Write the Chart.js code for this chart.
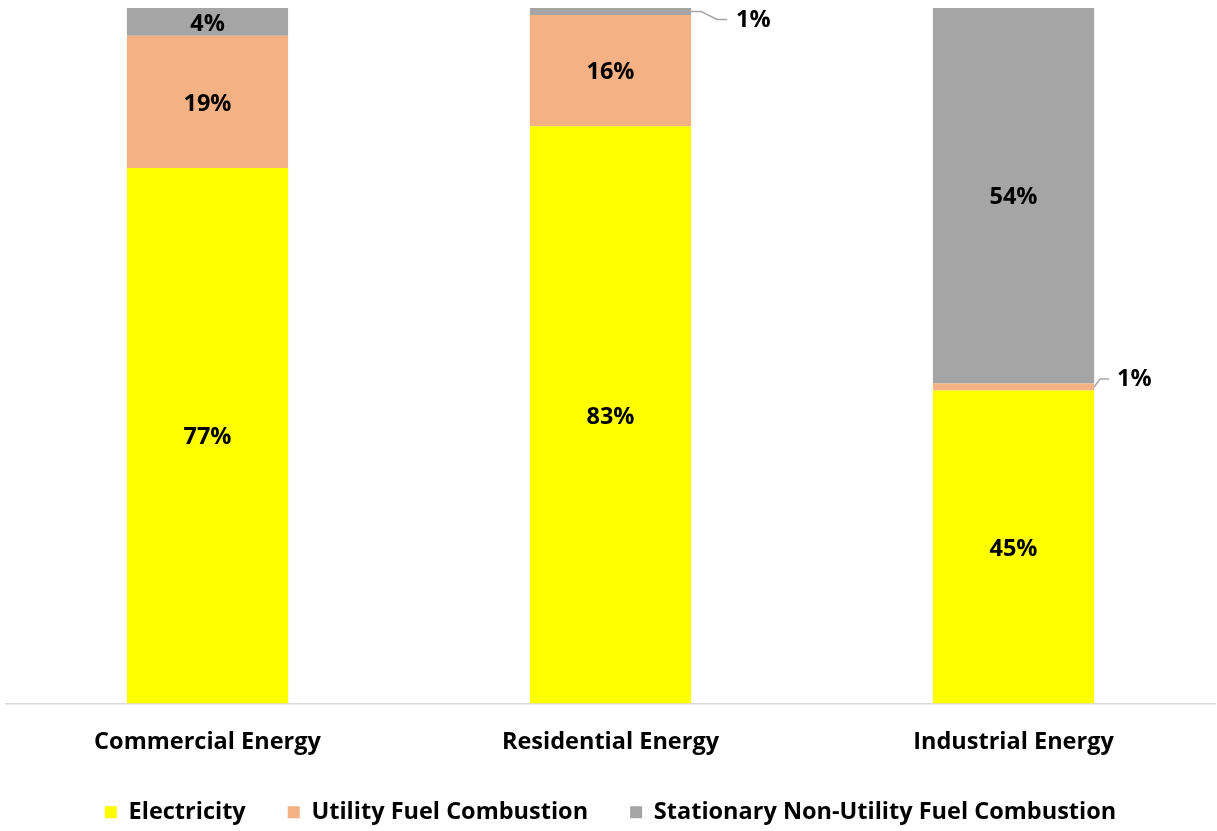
<!DOCTYPE html>
<html>
<head>
<meta charset="utf-8">
<script src="https://cdn.jsdelivr.net/npm/chart.js@4"></script>
<style>
  html, body { margin: 0; padding: 0; background: #fff; }
  #wrap { width: 1217px; height: 831px; }
</style>
</head>
<body>
<div id="wrap"><canvas id="chart" width="1217" height="831"></canvas></div>
<script>
// ===== Data =====
const sectors = ["Commercial Energy", "Residential Energy", "Industrial Energy"];
const electricity = [77, 83, 45];
const utilityFuel = [19, 16, 1];
const nonUtilityFuel = [4, 1, 54];

const FONT = "'Open Sans', sans-serif";
const SIZE = 23.5;

// ===== Segment labels (small ones get a leader line off to the right) =====
const segmentLabels = {
  id: "segmentLabels",
  afterDatasetsDraw(chart) {
    const ctx = chart.ctx;
    ctx.save();
    ctx.font = "bold " + SIZE + "px " + FONT;
    ctx.fillStyle = "#000";
    ctx.textBaseline = "middle";
    chart.data.datasets.forEach((ds, di) => {
      const meta = chart.getDatasetMeta(di);
      meta.data.forEach((bar, i) => {
        const v = ds.data[i];
        const text = v + "%";
        const mid = (bar.y + bar.base) / 2;
        if (v > 2) {
          ctx.textAlign = "center";
          ctx.fillText(text, bar.x, mid + 2);
          return;
        }
        // leader line from the bar's right edge
        const right = bar.x + bar.width / 2;
        let pts, tx, ty;
        if (mid < 40) {
          pts = [[right, mid], [right + 10, mid], [right + 26, mid + 8], [right + 36, mid + 8]];
          tx = right + 45; ty = mid + 9;
        } else {
          pts = [[right, mid], [right + 6, mid - 8], [right + 15, mid - 8]];
          tx = right + 23; ty = mid - 8;
        }
        ctx.strokeStyle = "#a6a6a6";
        ctx.lineWidth = 1.5;
        ctx.beginPath();
        ctx.moveTo(pts[0][0], pts[0][1]);
        for (let k = 1; k < pts.length; k++) ctx.lineTo(pts[k][0], pts[k][1]);
        ctx.stroke();
        ctx.textAlign = "left";
        ctx.fillText(text, tx, ty);
      });
    });
    ctx.restore();
  }
};

// ===== Chart =====
const ctx = document.getElementById("chart").getContext("2d");
new Chart(ctx, {
  type: "bar",
  data: {
    labels: sectors,
    datasets: [
      { label: "Electricity", data: electricity, backgroundColor: "#ffff00" },
      { label: "Utility Fuel Combustion", data: utilityFuel, backgroundColor: "#f4b183" },
      { label: "Stationary Non-Utility Fuel Combustion", data: nonUtilityFuel, backgroundColor: "#a5a5a5" }
    ]
  },
  options: {
    responsive: false,
    animation: false,
    layout: { padding: { left: 6, right: 2, top: 8, bottom: -3 } },
    datasets: { bar: { barPercentage: 0.4, categoryPercentage: 1.0, borderWidth: 0 } },
    plugins: {
      tooltip: { enabled: false },
      legend: {
        position: "bottom",
        labels: {
          font: { family: FONT, size: SIZE, weight: "bold" },
          color: "#000",
          boxWidth: 12,
          boxHeight: 12,
          padding: 42
        }
      }
    },
    scales: {
      x: {
        stacked: true,
        grid: { display: false },
        border: { display: true, color: "#d9d9d9", width: 1.5 },
        ticks: {
          font: { family: FONT, size: SIZE, weight: "bold" },
          color: "#000",
          padding: 17
        },
        afterFit(scale) { scale.height = 55; }
      },
      y: {
        stacked: true,
        min: 0,
        max: 100,
        display: false
      }
    }
  },
  plugins: [segmentLabels]
});
</script>
</body>
</html>
